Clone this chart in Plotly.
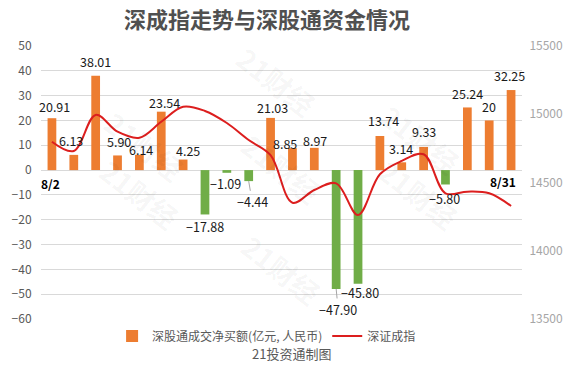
import plotly.graph_objects as go

# ---------------- data ----------------
dates = ["8/2", "8/3", "8/4", "8/5", "8/6", "8/9", "8/10", "8/11", "8/12", "8/13", "8/16",
         "8/17", "8/18", "8/19", "8/20", "8/23", "8/24", "8/25", "8/26", "8/27", "8/30", "8/31"]
net_buy = [20.91, 6.13, 38.01, 5.90, 6.14, 23.54, 4.25, -17.88, -1.09, -4.44, 21.03,
           8.85, 8.97, -47.90, -45.80, 13.74, 3.14, 9.33, -5.80, 25.24, 20, 32.25]
szci = [14799, 14731, 14995, 14872, 14828, 14945, 15055, 15024, 14936, 14811, 14700,
        14352, 14445, 14494, 14262, 14560, 14658, 14707, 14421, 14433, 14421, 14328]
left_ticks = [-60, -50, -40, -30, -20, -10, 0, 10, 20, 30, 40, 50]
right_ticks = [13500, 14000, 14500, 15000, 15500]

# label offsets in px (dx right, dy down) from bar end
label_off = [(3, -12), (-3, -14), (0, -14), (1.5, -14), (2, -5), (3.5, -9), (5, -9.5),
             (0, 12), (-1, 10.5), (3.5, 20.7), (2, -10.5), (-7.5, -4.7), (1, -7),
             (2, 20.5), (2, 9), (4, -15), (-1, -14), (0, -15), (-1, 14), (0, -14),
             (0, -14), (-1.5, -15)]
leader = {9, 13}

ORANGE = "#ED7D31"
GREEN = "#70AD47"
RED = "#DC1E1E"
FONT = "Noto Sans CJK SC"

colors = [ORANGE if v >= 0 else GREEN for v in net_buy]


def fmt(v):
    s = ("%g" % v) if v == int(v) else ("%.2f" % v)
    return s.replace("-", "\u2212")


fig = go.Figure()
fig.add_trace(go.Bar(x=dates, y=net_buy, marker=dict(color=colors, line=dict(width=0)),
                     name="深股通成交净买额(亿元, 人民币)", yaxis="y"))
fig.add_trace(go.Scatter(x=dates, y=szci, mode="lines", name="深证成指", yaxis="y2",
                         line=dict(color=RED, width=2, shape="spline", smoothing=1.0)))

ann = []
for i, (d, v) in enumerate(zip(dates, net_buy)):
    dx, dy = label_off[i]
    if i in leader:
        ann.append(dict(x=d, y=v, xref="x", yref="y", text=fmt(v), showarrow=True,
                        arrowhead=0, arrowwidth=1, arrowcolor="#A6A6A6", ax=dx, ay=dy,
                        standoff=0, font=dict(size=12.5, color="#1a1a1a", family=FONT)))
    else:
        ann.append(dict(x=d, y=v, xref="x", yref="y", text=fmt(v), showarrow=False,
                        xshift=dx, yshift=-dy,
                        font=dict(size=12.5, color="#1a1a1a", family=FONT)))

# bold first/last date labels
ann.append(dict(x=dates[0], y=0, xref="x", yref="y", text="<b>" + dates[0] + "</b>",
                showarrow=False, yshift=-13, xshift=-1,
                font=dict(size=12, color="#000000", family=FONT)))
ann.append(dict(x=dates[-1], y=0, xref="x", yref="y", text="<b>" + dates[-1] + "</b>",
                showarrow=False, yshift=-11, xshift=-8,
                font=dict(size=12, color="#000000", family=FONT)))

# watermarks
for (wx, wy) in [(0.111, 0.802), (0.489, 1.040), (0.893, 0.828), (0.499, 0.553),
                 (0.101, 0.289), (0.889, 0.289), (0.499, 0.015)]:
    ann.append(dict(x=wx, y=wy, xref="paper", yref="paper", text="<b>21财经</b>",
                    showarrow=False, textangle=38,
                    font=dict(size=28, color="rgba(0,0,0,0.045)", family=FONT)))

# footer
ann.append(dict(x=0.521, y=-0.128, xref="paper", yref="paper", text="21投资通制图",
                showarrow=False, yanchor="middle",
                font=dict(size=13, color="#595959", family=FONT)))

fig.update_layout(
    width=575, height=368,
    margin=dict(l=33, r=47, t=46, b=49),
    paper_bgcolor="white", plot_bgcolor="white",
    title=dict(text="<b>深成指走势与深股通资金情况</b>", x=267 / 575, xanchor="center",
               y=1 - 20 / 368, yanchor="middle",
               font=dict(size=22, color="#505050", family=FONT)),
    bargap=0.6,
    showlegend=True,
    legend=dict(orientation="h", x=0.469, xanchor="center", y=-0.062, yanchor="middle",
                font=dict(size=12, color="#595959", family=FONT), itemwidth=30,
                bgcolor="rgba(0,0,0,0)"),
    xaxis=dict(type="category", range=[-0.5, len(dates) - 0.5], showticklabels=False,
               showgrid=False, zeroline=False, showline=False, ticks=""),
    yaxis=dict(range=[-60, 50], tickvals=left_ticks, showgrid=True, gridcolor="#D9D9D9",
               gridwidth=1, zeroline=False, showline=False, ticks="outside", ticklen=6,
               tickcolor="rgba(0,0,0,0)",
               tickfont=dict(size=12, color="#595959", family=FONT)),
    yaxis2=dict(range=[13500, 15500], tickvals=right_ticks, tickformat="d",
                overlaying="y", side="right",
                showgrid=False, zeroline=False, showline=False, ticks="outside", ticklen=4,
                tickcolor="rgba(0,0,0,0)",
                tickfont=dict(size=12, color="#A6A6A6", family=FONT)),
    annotations=ann,
)

fig.write_html("out.html")
